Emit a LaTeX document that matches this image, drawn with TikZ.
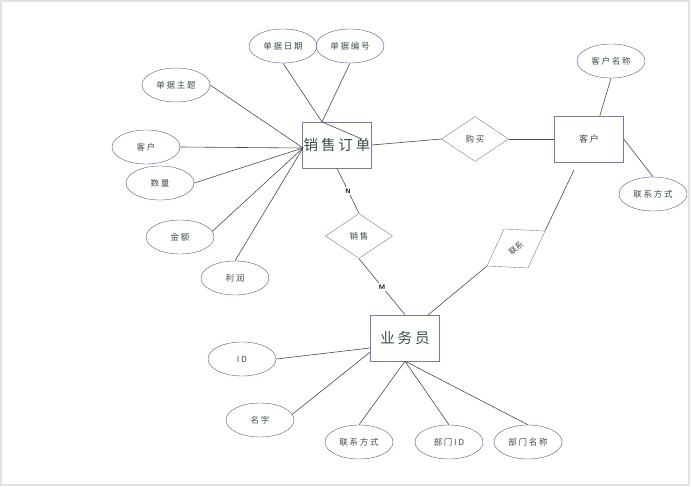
\documentclass[tikz,border=0pt]{standalone}
\usepackage{fontspec}
\newfontfamily\cjk{Noto Sans CJK SC}
\newfontfamily\cjkw[LetterSpace=20]{Noto Sans CJK SC}
\usetikzlibrary{shapes.geometric}

\definecolor{attrline}{HTML}{5C5490}
\definecolor{boxline}{HTML}{7D78A8}
\definecolor{linecol}{HTML}{4A4A4A}
\definecolor{txtcol}{HTML}{3D4B44}
\definecolor{framecol}{HTML}{E2E2E2}

\tikzset{
  attr/.style={ellipse, draw=attrline, minimum width=68pt, minimum height=34pt,
    inner sep=0pt, text=txtcol, font=\cjkw\fontsize{8.5}{10}\selectfont},
  entity/.style={rectangle, draw=boxline, minimum width=69pt, minimum height=46pt,
    inner sep=0pt, text=txtcol, font=\cjkw\fontsize{9}{11}\selectfont},
  bigentity/.style={entity, font=\cjkw\fontsize{14.5}{17}\selectfont},
  rel/.style={diamond, draw=boxline, minimum width=67pt, minimum height=45pt,
    inner sep=0pt, text=txtcol, font=\cjkw\fontsize{8.5}{10}\selectfont},
  link/.style={draw=linecol, line width=0.6pt},
  card/.style={fill=white, inner sep=1.5pt, text=black,
    font=\sffamily\bfseries\fontsize{6.5}{7}\selectfont}
}

\begin{document}
\begin{tikzpicture}[x=1pt,y=-1pt]

    \useasboundingbox (0,0) rectangle (691,487);
    % --- page frame ---
    \draw[framecol, line width=1.5pt] (1,1) rectangle (689,485);

    % --- Sales order (top) ---
    \node[bigentity] (order) at (337,145) {销售订单};
    \node[attr] (rqdate) at (283,46) {单据日期};
    \node[attr] (rqno) at (350,46) {单据编号};
    \node[attr] (topic) at (176,85) {单据主题};
    \node[attr] (cust1) at (146,147) {客户};
    \node[attr] (qty) at (160,183) {数量};
    \node[attr] (amt) at (180,237) {金额};
    \node[attr] (profit) at (235,278) {利润};

    \coordinate (oL) at (303,148);
    \coordinate (oT) at (322,122);
    \coordinate (oIn) at (362,139);
    \draw[link] (rqdate.south) -- (oT) -- (oIn);
    \draw[link] (rqno.south) -- (oT);
    \draw[link] (topic.east) -- (oL);
    \draw[link] (cust1.east) -- (oL);
    \draw[link] (qty.east) -- (oL);
    \draw[link] (amt.10) -- (oL);
    \draw[link] (profit.north) -- (oL);

    % --- Customer (right) ---
    \node[rel] (buy) at (475,139) {购买};
    \node[entity] (cust) at (589,139) {客户};
    \node[attr] (cname) at (611,61) {客户名称};
    \node[attr] (ccontact) at (653,194) {联系方式};

    \draw[link] (order.east) -- (buy.west);
    \draw[link] (buy.east) -- (cust.west);
    \draw[link] (cname.south) -- (cust.65);
    \draw[link] (cust.east) -- (ccontact.north);

    % --- Salesman (bottom) ---
    \node[bigentity] (staff) at (405,338) {业务员};
    \node[rel] (sale) at (359,236) {销售};
    \node[attr] (sid) at (242,359) {ID};
    \node[attr] (sname) at (260,420) {名字};
    \node[attr] (scontact) at (359,442) {联系方式};
    \node[attr] (deptid) at (449,442) {部门ID};
    \node[attr] (deptname) at (528,442) {部门名称};

    \draw[link] (order.south) -- node[card] {N} (sale.north);
    \draw[link] (sale.south) -- node[card] {M} (staff.north);
    \draw[link] (sid.east) -- (staff.196);
    \draw[link] (sname.10) -- (staff.202);
    \draw[link] (staff.south) -- (scontact.north);
    \draw[link] (staff.south) -- (deptid.north);
    \draw[link] (staff.south) -- (deptname.north);

    % --- contact relation (tilted box) ---
    \coordinate (lxTL) at (504,229);
    \coordinate (lxTR) at (545,231);
    \coordinate (lxBR) at (528,268);
    \coordinate (lxBL) at (487,266);
    \draw[boxline] (lxTL) -- (lxTR) -- (lxBR) -- (lxBL) -- cycle;
    \node[text=txtcol, rotate=40, inner sep=0pt, font=\cjk\fontsize{8}{9}\selectfont] (lx) at (516,248) {联系};
    \coordinate (cB) at (574,170);
    \draw[link] (cB) -- (lxTR);
    \draw[link] (lxBL) -- (staff.45);

\end{tikzpicture}
\end{document}
